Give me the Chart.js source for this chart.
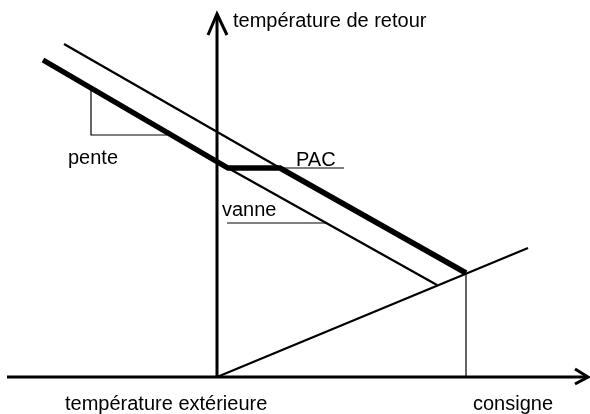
<!DOCTYPE html>
<html>
<head>
<meta charset="utf-8">
<script src="https://cdn.jsdelivr.net/npm/chart.js@4.4.0/dist/chart.umd.min.js"></script>
<style>
  html, body { margin: 0; padding: 0; background: #fff; }
  #wrap { width: 590px; height: 414px; }
</style>
</head>
<body>
<div id="wrap"><canvas id="c" width="590" height="414"></canvas></div>
<script>
// diagram units, origin where the two axes cross
const xAxisLine = [{ x: -210, y: 0 }, { x: 371, y: 0 }];
const xAxisArrow = [{ x: 358, y: 8 }, { x: 371, y: 0 }, { x: 358, y: -7 }];
const yAxisLine = [{ x: 0, y: 0 }, { x: 0, y: 363 }];
const yAxisArrow = [{ x: -9, y: 342 }, { x: 0, y: 363 }, { x: 10, y: 342 }];

// PAC curve (thick): pente, palier, then down to the consigne point
const pacCurve = [{ x: -174, y: 317 }, { x: 11, y: 209 }, { x: 63, y: 209 }, { x: 249, y: 104 }];
// upper thin line, in line with the last PAC segment
const upperLine = [{ x: -153, y: 333 }, { x: 63, y: 209 }];
// vanne line
const vanneLine = [{ x: 11, y: 209 }, { x: 220, y: 92 }];
// line rising from origin through the consigne point
const risingLine = [{ x: 0, y: 0 }, { x: 311, y: 129 }];
const consigneDrop = [{ x: 249, y: 104 }, { x: 249, y: 0 }];
const penteBox = [{ x: -126, y: 288 }, { x: -126, y: 242 }, { x: -50, y: 242 }];
const pacUnderline = [{ x: 63, y: 209 }, { x: 127, y: 209 }];
const vanneUnderline = [{ x: 10, y: 154 }, { x: 109, y: 154 }];

const labels = [
  { text: 'température de retour', x: 16, y: 350 },
  { text: 'pente', x: -149, y: 213 },
  { text: 'PAC', x: 79, y: 211 },
  { text: 'vanne', x: 5, y: 161 },
  { text: 'température extérieure', x: -152, y: -33 },
  { text: 'consigne', x: 256, y: -33 }
];

function seg(data, width) {
  return {
    data: data,
    showLine: true,
    borderColor: '#000',
    borderWidth: width,
    pointRadius: 0,
    pointHoverRadius: 0,
    fill: false,
    tension: 0,
    clip: false
  };
}

const labelPlugin = {
  id: 'labels',
  afterDatasetsDraw(chart) {
    const ctx = chart.ctx;
    const sx = chart.scales.x, sy = chart.scales.y;
    ctx.save();
    ctx.fillStyle = '#000';
    ctx.font = '20px "Liberation Sans", Arial, sans-serif';
    ctx.textAlign = 'left';
    ctx.textBaseline = 'alphabetic';
    labels.forEach(l => {
      ctx.fillText(l.text, sx.getPixelForValue(l.x), sy.getPixelForValue(l.y));
    });
    ctx.restore();
  }
};

new Chart(document.getElementById('c'), {
  type: 'scatter',
  data: {
    datasets: [
      seg(xAxisLine, 3),
      seg(xAxisArrow, 3),
      seg(yAxisLine, 3),
      seg(yAxisArrow, 3),
      seg(upperLine, 2.2),
      seg(vanneLine, 2.2),
      seg(risingLine, 2.2),
      seg(consigneDrop, 1.2),
      seg(penteBox, 1.2),
      seg(pacUnderline, 1.2),
      seg(vanneUnderline, 1.2),
      seg(pacCurve, 5.5)
    ]
  },
  options: {
    responsive: false,
    animation: false,
    layout: { padding: 0 },
    events: [],
    plugins: {
      legend: { display: false },
      tooltip: { enabled: false }
    },
    scales: {
      x: { type: 'linear', min: -217, max: 373, display: false },
      y: { type: 'linear', min: -37, max: 377, display: false }
    }
  },
  plugins: [labelPlugin]
});
</script>
</body>
</html>
